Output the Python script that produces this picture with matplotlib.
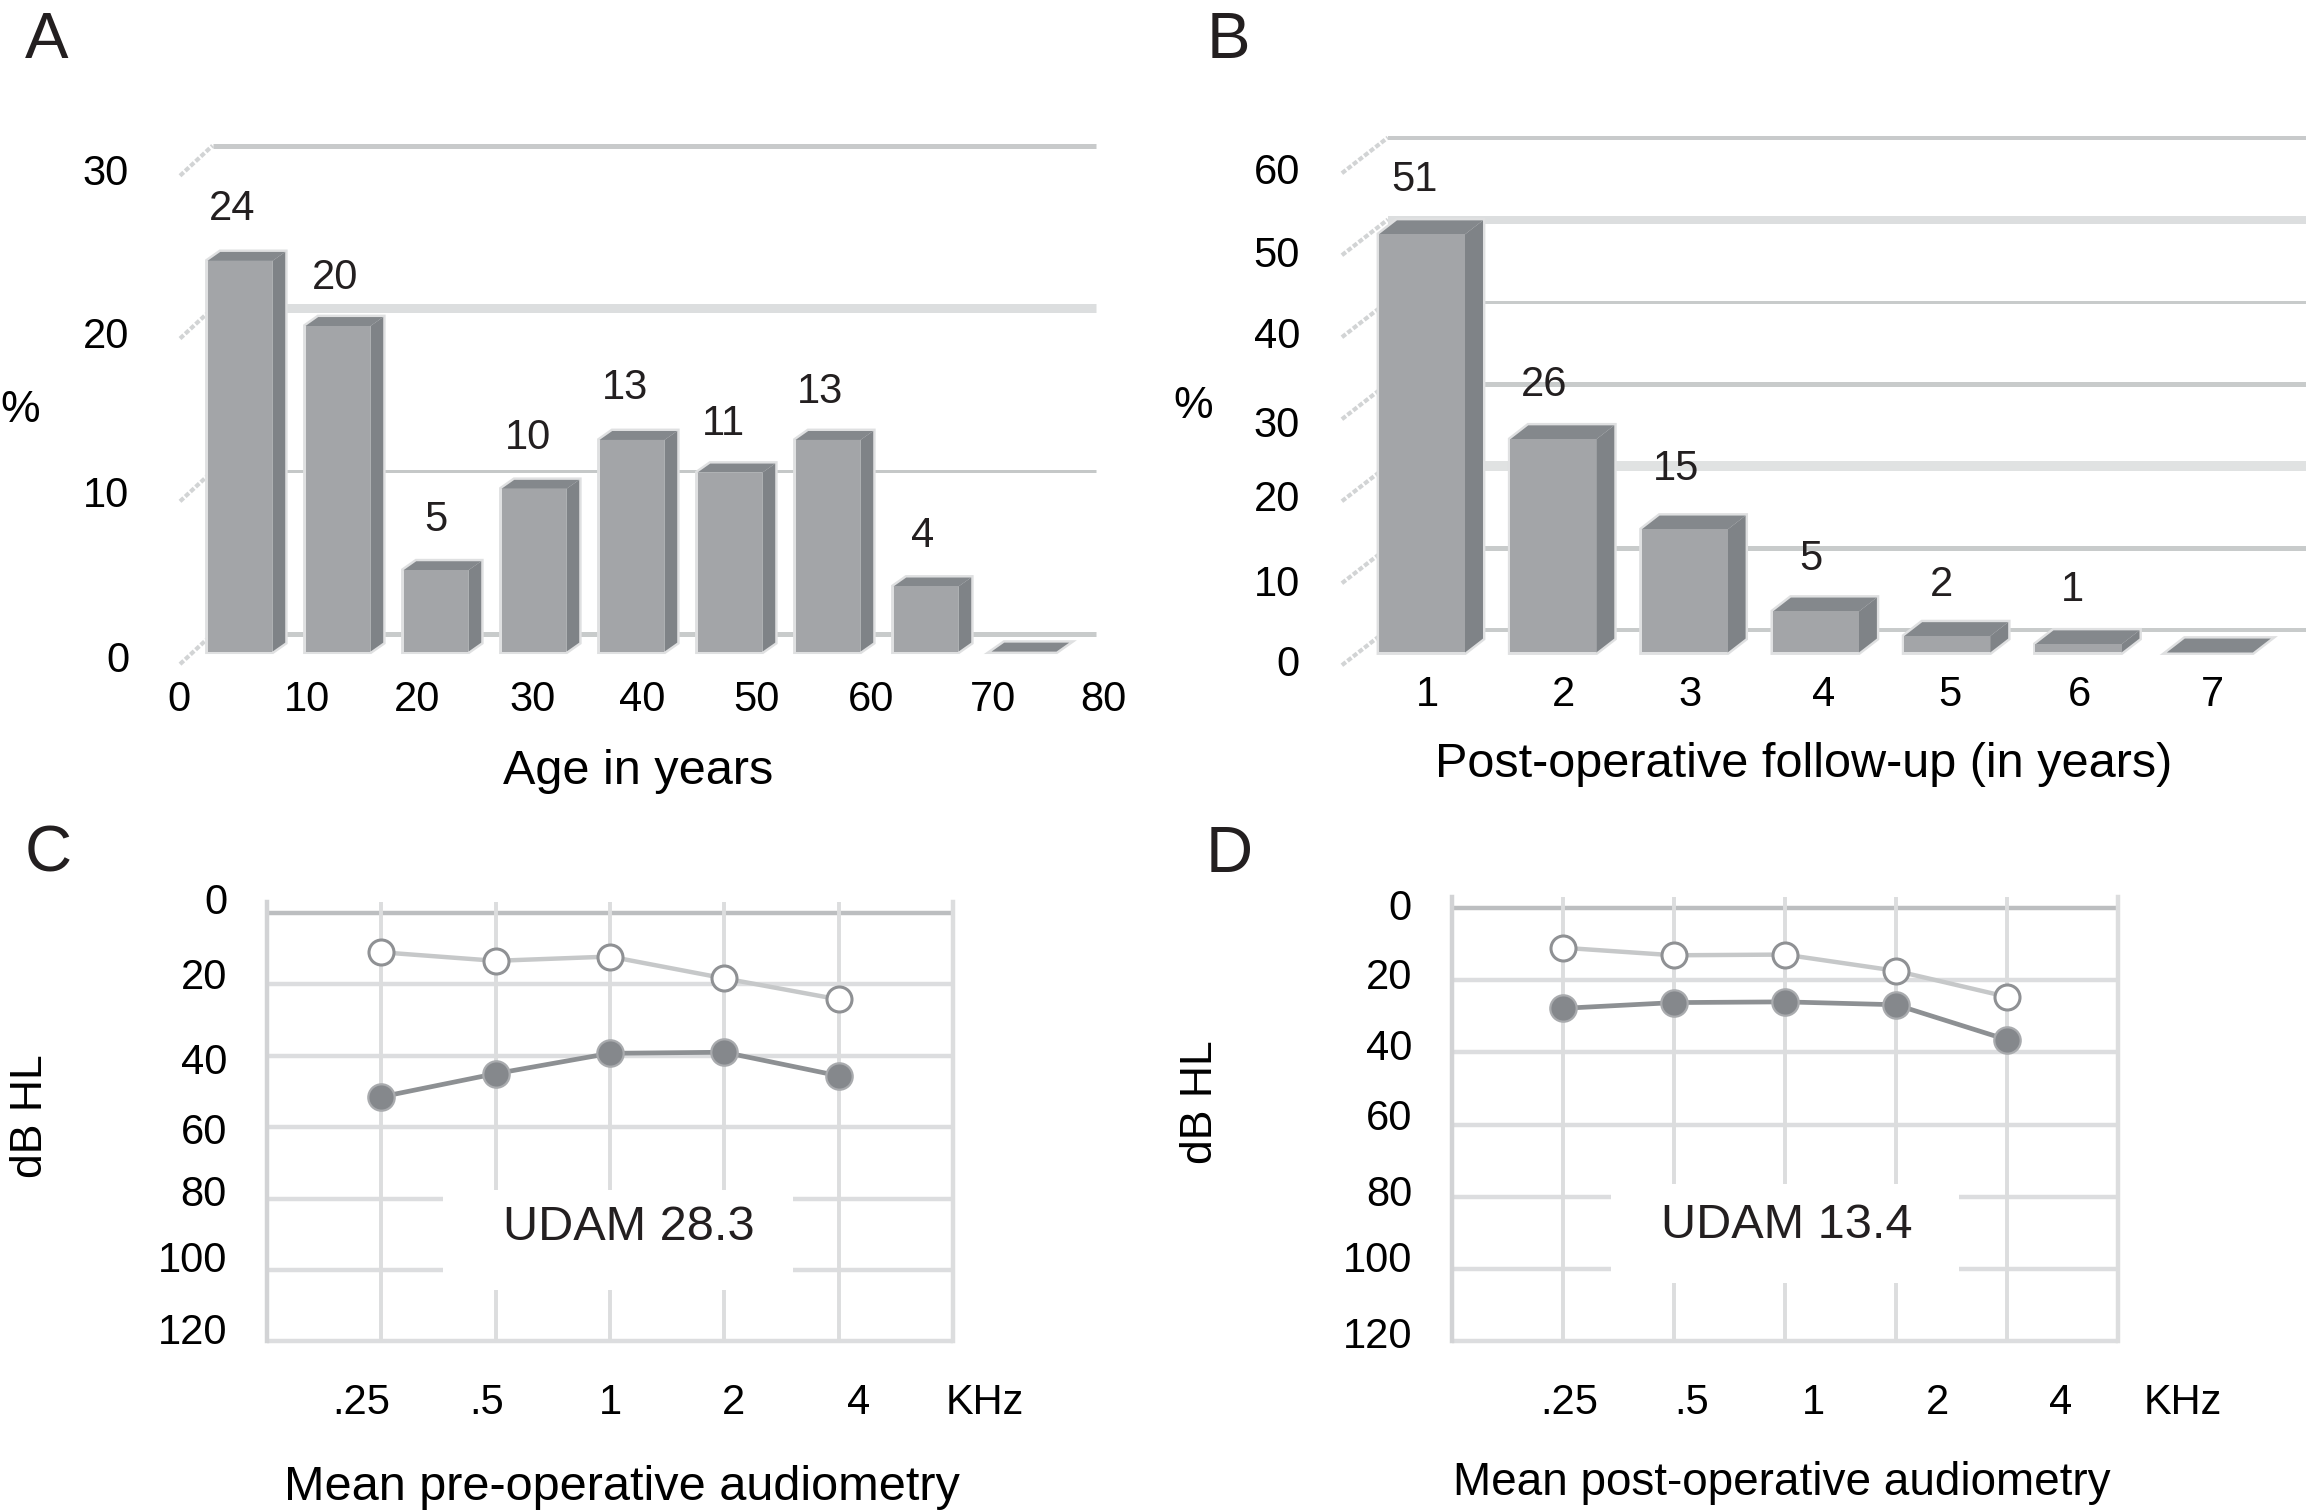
import matplotlib
matplotlib.use('Agg')
import matplotlib.pyplot as plt
from matplotlib.patches import Rectangle

W = 2306
H = 1511
plt.rcParams['font.family'] = ['Liberation Sans', 'DejaVu Sans']
plt.rcParams['text.color'] = '#231f20'

# Data
age_ticks = ['0', '10', '20', '30', '40', '50', '60', '70', '80']
age_pct = [24, 20, 5, 10, 13, 11, 13, 4, 0]
age_labels = ['24', '20', '5', '10', '13', '11', '13', '4', '']
age_y_ticks = ['30', '20', '10', '0']
age_grid = [0, 10, 20, 30]

follow_ticks = ['1', '2', '3', '4', '5', '6', '7']
follow_pct = [51, 26, 15, 5, 2, 1, 0]
follow_labels = ['51', '26', '15', '5', '2', '1', '']
follow_y_ticks = ['60', '50', '40', '30', '20', '10', '0']
follow_grid = [0, 10, 20, 30, 40, 50, 60]

freq_ticks = ['.25', '.5', '1', '2', '4', 'KHz']
db_ticks = ['0', '20', '40', '60', '80', '100', '120']
db_grid = [0, 20, 40, 60, 80, 100, 120]
pre_open = [11, 13.4, 12.2, 18.3, 24.2]
pre_filled = [51.5, 45, 39.3, 39, 45.6]
post_open = [11, 13.1, 12.9, 17.4, 24.6]
post_filled = [27.8, 26.2, 26, 26.8, 36.5]

TICK_SIZE = 30
LABEL_SIZE = 35


def make_axes(fig, box, x0, xs, y0, ys):
    # box is left, right, top, bottom in pixels; x0/y0 is where data 0 falls
    left, right, top, bottom = box
    ax = fig.add_axes([left / W, 1 - bottom / H, (right - left) / W, (bottom - top) / H])
    ax.set_xlim((left - x0) / xs, (right - x0) / xs)
    ax.set_ylim((bottom - y0) / ys, (top - y0) / ys)
    ax.patch.set_alpha(0)
    for s in ax.spines.values():
        s.set_visible(False)
    return ax


def fig_xy(x, y):
    return x / W, 1 - y / H


def set_ticks(ax, x0, xs, y0, ys, xpx, xlabels, ypx, ylabels, xpad, ypad):
    ax.set_xticks([(p - x0) / xs for p in xpx], xlabels, fontsize=TICK_SIZE)
    ax.set_yticks([(p - 2 - y0) / ys for p in ypx], ylabels, fontsize=TICK_SIZE)
    ax.tick_params(axis='x', length=0, pad=xpad * 0.72)
    ax.tick_params(axis='y', length=0, pad=ypad * 0.72)


def bar_panel(fig, box, x0, xs, y0, ys, values, labels, grid, grid_px, grid_col, back, grid_end,
              bar_w, dx, dy, label_xy):
    ax = make_axes(fig, box, x0, xs, y0, ys)
    xs_i = list(range(len(values)))
    back_dx, back_dy, front_dy, front_dx = back
    for g, lw, c in zip(grid, grid_px, grid_col):
        # floor-to-wall stub, then the long wall line
        ax.plot([-front_dx, back_dx], [g + front_dy, g + back_dy], color='#d2d4d5', lw=3,
                ls=(0, (1.2, 0.5)), zorder=1, clip_on=False)
        ax.plot([back_dx, (grid_end - x0) / xs], [g + back_dy, g + back_dy], color=c, lw=lw * 0.72,
                solid_capstyle='butt', zorder=1)
    for i, v in zip(xs_i, values):
        r = i + bar_w / 2
        l = i - bar_w / 2
        # pale halo behind the whole block
        ax.fill([l, r, r + dx, r + dx, l + dx, l], [0, 0, dy, v + dy, v + dy, v], color='#dfe0e1',
                lw=3.5, zorder=2)
        ax.fill([r, r + dx, r + dx, r], [0, dy, v + dy, v], color='#7f8387', lw=0, zorder=2.6)
        ax.fill([l, l + dx, r + dx, r], [v, v + dy, v + dy, v], color='#84888c', lw=0, zorder=2.8)
    ax.bar(xs_i, values, width=bar_w, color='#a3a5a8', zorder=3)
    for t, (lx, ly) in zip(labels, label_xy):
        if t:
            ax.text((lx - x0) / xs, (ly + 3 - y0) / ys, t, fontsize=TICK_SIZE, ha='center',
                    va='center', zorder=5)
    return ax


def audio_panel(fig, box, x0, xs, y0, ys, opened, filled, white_box, udam, udam_xy):
    ax = make_axes(fig, box, x0, xs, y0, ys)
    for g in db_grid:
        c = '#bcbec0' if g == 0 else '#dcdddf'
        ax.plot([0, 6], [g, g], color=c, lw=3.2, solid_capstyle='butt', zorder=1)
    for f in range(1, 6):
        ax.plot([f, f], [-3, 120], color='#dcddde', lw=2.8, solid_capstyle='butt', zorder=1)
    ax.plot([0, 0], [-3, 120], color='#d2d3d5', lw=3.2, zorder=1)
    ax.plot([6, 6], [-3, 120], color='#dcddde', lw=3.2, zorder=1)
    bx0, bx1, by0, by1 = white_box
    ax.add_patch(Rectangle((bx0, by0), bx1 - bx0, by1 - by0, fc='white', ec='none', zorder=2))
    ax.text((udam_xy[0] - x0) / xs, (udam_xy[1] - y0) / ys, udam, fontsize=LABEL_SIZE,
            ha='center', va='center', zorder=5)
    freq_x = [1, 2, 3, 4, 5]
    ax.plot(freq_x, opened, color='#c6c8c9', lw=3.2, marker='o', ms=18, mfc='white', mec='#8f9194',
            mew=2.2, zorder=3)
    ax.plot(freq_x, filled, color='#8d9093', lw=3.4, marker='o', ms=19, mfc='#85888c', mec='#a9abae',
            mew=1.6, zorder=3)
    return ax


fig = plt.figure(figsize=(W / 100, H / 100), dpi=100, facecolor='white')

# A
a = dict(x0=240, xs=98, y0=651.6, ys=-16.28)
ax = bar_panel(fig, (170, 1110, 130, 675), a['x0'], a['xs'], a['y0'], a['ys'], age_pct, age_labels,
               age_grid, [5, 3, 9, 5], ['#c8cbcb', '#c5c8c8', '#dcdedf', '#c8cacb'],
               (-0.28, 1.08, -0.77, 0.612), 1096, 0.663, 0.13, 0.55,
               [(232, 206), (335, 275), (436, 517), (528, 435), (625, 385), (723, 421), (820, 389), (923, 533), (0, 0)])
set_ticks(ax, a['x0'], a['xs'], a['y0'], a['ys'],
          [179, 307, 417, 533, 642, 756, 871, 993, 1103], age_ticks,
          [172, 335, 494, 659], age_y_ticks, 5, 41)
ax.set_xlabel('Age in years', fontsize=LABEL_SIZE, va='center')
ax.xaxis.set_label_coords(*fig_xy(638, 771), transform=fig.transFigure)
ax.set_ylabel('%', fontsize=32, rotation=0, ha='center', va='center')
ax.yaxis.set_label_coords(*fig_xy(20, 411), transform=fig.transFigure)

# B
b = dict(x0=1422, xs=131.3, y0=652.5, ys=-8.2)
ax = bar_panel(fig, (1335, 2306, 130, 675), b['x0'], b['xs'], b['y0'], b['ys'], follow_pct, follow_labels,
               follow_grid, [4, 5, 10, 5, 3, 8, 4],
               ['#c8cbcb', '#c8cbcb', '#e0e2e2', '#c8cbcb', '#c8cbcb', '#dcdedf', '#c8cacb'],
               (-0.26, 2.8, -1.55, 0.61), 2306, 0.655, 0.137, 1.7,
               [(1414, 177), (1544, 382), (1676, 466), (1811, 556), (1941, 582), (2072, 587), (0, 0)])
set_ticks(ax, b['x0'], b['xs'], b['y0'], b['ys'],
          [1427, 1564, 1690, 1824, 1950, 2079, 2212], follow_ticks,
          [171, 254, 335, 424, 498, 582.5, 662.6], follow_y_ticks, 0, 35)
ax.set_xlabel('Post-operative follow-up (in years)', fontsize=LABEL_SIZE, va='center')
ax.xaxis.set_label_coords(*fig_xy(1804, 764), transform=fig.transFigure)
ax.set_ylabel('%', fontsize=32, rotation=0, ha='center', va='center')
ax.yaxis.set_label_coords(*fig_xy(1193, 407), transform=fig.transFigure)

# C
c = dict(x0=267, xs=114.3, y0=913, ys=3.57)
ax = audio_panel(fig, (255, 1010, 885, 1350), c['x0'], c['xs'], c['y0'], c['ys'], pre_open, pre_filled,
                 (1.54, 4.6, 77.6, 105.6), 'UDAM 28.3', (629, 1227))
set_ticks(ax, c['x0'], c['xs'], c['y0'], c['ys'],
          [361, 487, 610, 734, 859, 985], freq_ticks,
          [900, 975.5, 1060, 1130, 1193, 1259, 1331], db_ticks, 33, 28)
ax.set_xlabel('Mean pre-operative audiometry', fontsize=LABEL_SIZE, va='center')
ax.xaxis.set_label_coords(*fig_xy(622, 1488), transform=fig.transFigure)
ax.set_ylabel('dB HL', fontsize=32, va='center')
ax.yaxis.set_label_coords(*fig_xy(30, 1116), transform=fig.transFigure)

# D
d = dict(x0=1451.5, xs=111.1, y0=908, ys=3.61)
ax = audio_panel(fig, (1440, 2230, 885, 1350), d['x0'], d['xs'], d['y0'], d['ys'], post_open, post_filled,
                 (1.44, 4.57, 76.5, 103.9), 'UDAM 13.4', (1787, 1226))
set_ticks(ax, d['x0'], d['xs'], d['y0'], d['ys'],
          [1569, 1692, 1813, 1937, 2061, 2183], freq_ticks,
          [906, 975.5, 1046.5, 1116, 1192, 1259, 1334], db_ticks, 33, 28)
ax.set_xlabel('Mean post-operative audiometry', fontsize=33, va='center')
ax.xaxis.set_label_coords(*fig_xy(1782, 1483), transform=fig.transFigure)
ax.set_ylabel('dB HL', fontsize=32, va='center')
ax.yaxis.set_label_coords(*fig_xy(1201, 1102), transform=fig.transFigure)

# panel letters
for letter, px, py in [('A', 47, 41), ('B', 1228, 41), ('C', 48, 855), ('D', 1229, 855)]:
    fig.text(*fig_xy(px, py), letter, fontsize=47, ha='center', va='center')

fig.savefig('out.png', dpi=100)
